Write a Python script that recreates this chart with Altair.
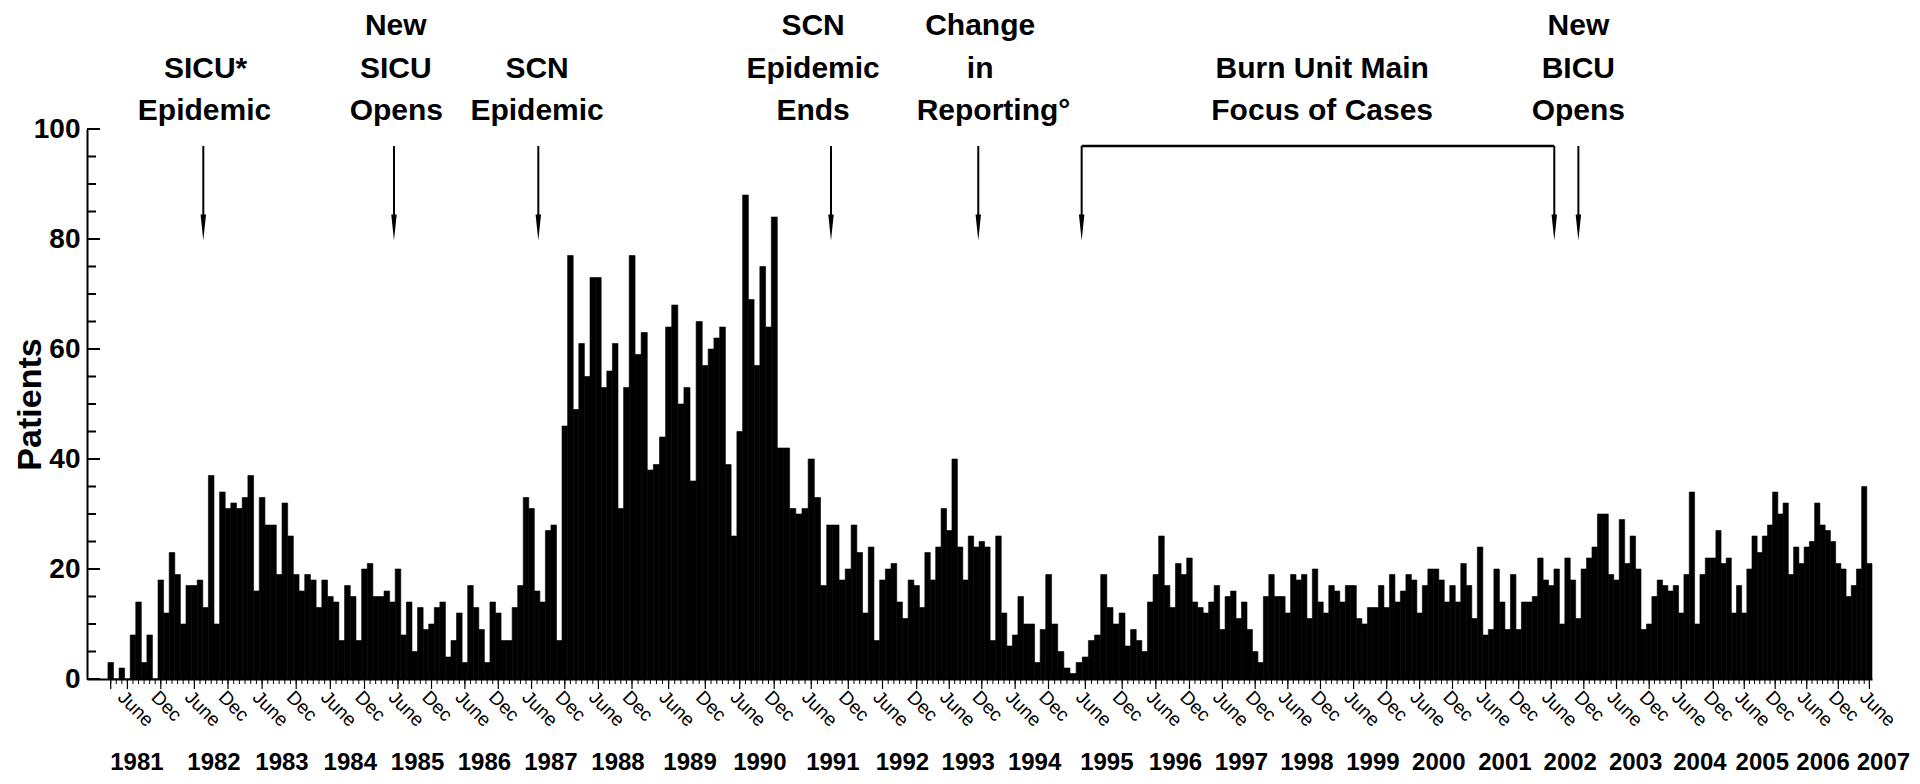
import altair as alt
import pandas as pd

# ---------------- data: monthly patients, March 1981 - June 2007 ----------------
first_month = 2  # months since Jan 1981 of the first bar (March 1981)
p1981 = [3, 0, 2, 0, 8, 14, 3, 8, 0, 18]
p1982 = [12, 23, 19, 10, 17, 17, 18, 13, 37, 10, 34, 31]
p1983 = [32, 31, 33, 37, 16, 33, 28, 28, 19, 32, 26, 19]
p1984 = [16, 19, 18, 13, 18, 15, 14, 7, 17, 15, 7, 20]
p1985 = [21, 15, 15, 16, 14, 20, 8, 14, 5, 13, 9, 10]
p1986 = [13, 14, 4, 7, 12, 3, 17, 13, 9, 3, 14, 12]
p1987 = [7, 7, 13, 17, 33, 31, 16, 14, 27, 28, 7, 46]
p1988 = [77, 49, 61, 55, 73, 73, 53, 56, 61, 31, 53, 77]
p1989 = [59, 63, 38, 39, 44, 64, 68, 50, 53, 36, 65, 57]
p1990 = [60, 62, 64, 39, 26, 45, 88, 69, 57, 75, 64, 84]
p1991 = [42, 42, 31, 30, 31, 40, 33, 17, 28, 28, 18, 20]
p1992 = [28, 23, 12, 24, 7, 18, 20, 21, 14, 11, 18, 17]
p1993 = [13, 23, 18, 24, 31, 27, 40, 24, 18, 26, 24, 25]
p1994 = [24, 7, 26, 12, 6, 8, 15, 10, 10, 3, 9, 19]
p1995 = [10, 5, 2, 1, 3, 4, 7, 8, 19, 13, 10, 12]
p1996 = [6, 9, 7, 5, 14, 19, 26, 17, 13, 21, 19, 22]
p1997 = [14, 13, 12, 14, 17, 9, 15, 16, 11, 14, 9, 5]
p1998 = [3, 15, 19, 15, 15, 12, 19, 18, 19, 11, 20, 14]
p1999 = [12, 17, 16, 14, 17, 17, 11, 10, 13, 13, 17, 13]
p2000 = [19, 14, 16, 19, 18, 12, 17, 20, 20, 18, 14, 17]
p2001 = [14, 21, 17, 11, 24, 8, 9, 20, 14, 9, 19, 9]
p2002 = [14, 14, 15, 22, 18, 17, 20, 10, 22, 18, 11, 20]
p2003 = [22, 24, 30, 30, 19, 18, 29, 21, 26, 20, 9, 10]
p2004 = [15, 18, 17, 16, 17, 12, 19, 34, 10, 19, 22, 22]
p2005 = [27, 21, 22, 12, 17, 12, 20, 26, 23, 26, 28, 34]
p2006 = [30, 32, 19, 24, 21, 24, 25, 32, 28, 27, 25, 21]
p2007 = [20, 15, 17, 20, 35, 21]

patients = (p1981 + p1982 + p1983 + p1984 + p1985 + p1986 + p1987 + p1988 + p1989
            + p1990 + p1991 + p1992 + p1993 + p1994 + p1995 + p1996 + p1997 + p1998
            + p1999 + p2000 + p2001 + p2002 + p2003 + p2004 + p2005 + p2006 + p2007)

years = list(range(1981, 2008))
month_labels = {5: "June", 11: "Dec"}
y_tick_labels = [0, 20, 40, 60, 80, 100]

# the original time axis is slightly uneven: pixel position of each December
# used as the knots of a piecewise-linear x scale
knot_month = [-1.76] + [12 * i + 11.5 for i in range(26)] + [318]
knot_px = [0, 73.8, 141, 209.2, 277.5, 344.5, 411.3, 477.8, 545, 618.3, 687.2, 761.3,
           829.7, 894.8, 961.5, 1035.2, 1102.5, 1168.2, 1233.5, 1299.7, 1365.5, 1431.7,
           1496.8, 1562.2, 1626.3, 1688.2, 1751.3, 1785]

# annotations (text, x position in months since Jan 1981, row 1 = top)
ann_text = ["SICU*", "Epidemic",
            "New", "SICU", "Opens",
            "SCN", "Epidemic",
            "SCN", "Epidemic", "Ends",
            "Change", "in", "Reporting\u00b0",
            "Burn Unit Main", "Focus of Cases",
            "New", "BICU", "Opens"]
ann_x = [19.5, 19.3,
         53.1, 53.1, 53.2,
         78.5, 78.5,
         125.8, 125.8, 125.8,
         155.2, 155.2, 157.6,
         215.8, 215.8,
         262.5, 262.5, 262.5]
ann_row = [2, 3, 1, 2, 3, 2, 3, 1, 2, 3, 1, 2, 3, 2, 3, 1, 2, 3]
arrow_x = [19.09, 52.78, 78.72, 128.7, 154.85, 172.9, 258.06, 262.5]
bracket_x = [172.9, 258.06]

# ---------------- tables ----------------
m = list(range(first_month, first_month + len(patients)))
bars = pd.DataFrame({"m0": m, "m1": [v + 1 for v in m], "patients": patients})

minor_ticks = pd.DataFrame({"t": [v + 0.5 for v in m]})
label_ticks = pd.DataFrame({"t": [v + 0.5 for v in m if (v % 12) in month_labels or v == first_month]})
mlabels = pd.DataFrame({"t": [v + 0.5 for v in m if (v % 12) in month_labels],
                        "label": [month_labels[v % 12] for v in m if (v % 12) in month_labels]})
year_t = [12 * (y - 1981) + 9.0 for y in years]
year_t[0] = 7.2
year_t[-2] = 308.6
year_t[-1] = 320.2
ylabels = pd.DataFrame({"t": year_t, "label": [str(y) for y in years]})

row_y = {1: 118.73, 2: 111.0, 3: 103.27}
ann = pd.DataFrame({"text": ann_text, "t": ann_x, "yv": [row_y[r] for r in ann_row]})
arrows = pd.DataFrame({"t": arrow_x, "y1": [96.9] * len(arrow_x), "y2": [83.0] * len(arrow_x),
                       "yh": [82.1] * len(arrow_x)})
bracket = pd.DataFrame({"t0": [bracket_x[0]], "t1": [bracket_x[1]], "y": [96.9]})
ymajor = pd.DataFrame({"v": y_tick_labels})
yminor = pd.DataFrame({"v": [v for v in range(5, 100, 5) if v % 20]})

# ---------------- chart ----------------
W, H = 1785, 550
FONT = "Liberation Sans, Arial, Helvetica, sans-serif"
xscale = alt.Scale(domain=knot_month, range=knot_px, nice=False, zero=False)
yscale = alt.Scale(domain=[0, 100], nice=False)

xaxis = alt.Axis(title=None, labels=False, ticks=False, grid=False, domain=True,
                 domainColor="black", domainWidth=2)
yaxis = alt.Axis(title="Patients", values=y_tick_labels, ticks=False, grid=False,
                 domain=True, domainColor="black", domainWidth=2,
                 labelFont=FONT, labelFontSize=28, labelFontWeight="bold",
                 labelColor="black", labelPadding=7,
                 titleFont=FONT, titleFontSize=34, titleFontWeight="bold",
                 titleColor="black", titleAngle=270, titleX=-57, titleY=H / 2,
                 titleAlign="center", titleBaseline="middle")


def X(field):
    return alt.X(field, scale=xscale, axis=xaxis)


def Y(field):
    return alt.Y(field, scale=yscale, axis=yaxis)


bar_layer = alt.Chart(bars).mark_bar(color="black", stroke="black", strokeWidth=0.6).encode(
    x=X("m0:Q"), x2="m1:Q", y=Y("patients:Q"), y2=alt.datum(0))

ymaj_layer = alt.Chart(ymajor).mark_rule(color="black", strokeWidth=2).encode(
    y=Y("v:Q"), x=alt.value(0), x2=alt.value(13))
ymin_layer = alt.Chart(yminor).mark_rule(color="black", strokeWidth=2).encode(
    y=Y("v:Q"), x=alt.value(0), x2=alt.value(9))

xtick_layer = alt.Chart(minor_ticks).mark_rule(color="black", strokeWidth=1).encode(
    x=X("t:Q"), y=alt.value(H + 1), y2=alt.value(H + 5))
xltick_layer = alt.Chart(label_ticks).mark_rule(color="black", strokeWidth=1.2).encode(
    x=X("t:Q"), y=alt.value(H + 1), y2=alt.value(H + 10))

mlab_layer = alt.Chart(mlabels).mark_text(angle=45, align="left", baseline="top", font=FONT,
                                          fontSize=19, color="black").encode(
    x=X("t:Q"), y=alt.value(H + 9), text="label:N")

year_layer = alt.Chart(ylabels).mark_text(font=FONT, fontSize=24, fontWeight="bold",
                                          align="center", baseline="middle", color="black").encode(
    x=X("t:Q"), y=alt.value(H + 84), text="label:N")

ann_layer = alt.Chart(ann).mark_text(font=FONT, fontSize=30, fontWeight="bold",
                                     align="center", baseline="middle", color="black").encode(
    x=X("t:Q"), y=Y("yv:Q"), text="text:N")

shaft_layer = alt.Chart(arrows).mark_rule(color="black", strokeWidth=2).encode(
    x=X("t:Q"), y=Y("y1:Q"), y2="y2:Q")
head_layer = alt.Chart(arrows).mark_point(shape="M-0.21,-1L0.21,-1L0,1Z", filled=True, size=676,
                                          color="black", opacity=1).encode(
    x=X("t:Q"), y=Y("yh:Q"))
bracket_layer = alt.Chart(bracket).mark_rule(color="black", strokeWidth=2.5).encode(
    x=X("t0:Q"), x2="t1:Q", y=Y("y:Q"))

chart = alt.layer(bar_layer, ymaj_layer, ymin_layer, xtick_layer, xltick_layer, mlab_layer,
                  year_layer, ann_layer, shaft_layer, head_layer, bracket_layer).properties(
    width=W, height=H,
    autosize=alt.AutoSizeParams(type="none"),
    padding={"left": 79, "top": 121, "right": 40, "bottom": 97},
    background="white",
).configure_view(stroke=None)

chart.save("out.html", embed_options={"renderer": "svg", "actions": False})
